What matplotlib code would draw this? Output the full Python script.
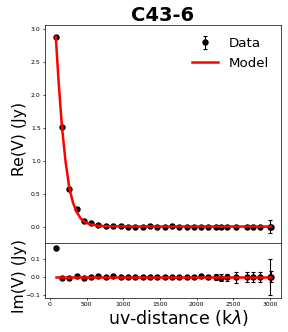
import numpy as np
import matplotlib.pyplot as plt

# datos
uv = [80, 165, 265, 365, 460, 560, 660, 765, 865, 965, 1065, 1165, 1265, 1365, 1465,
      1565, 1665, 1765, 1865, 1960, 2060, 2160, 2265, 2330, 2415, 2535, 2680, 2770,
      2865, 2995, 3015]
re_v = [2.88, 1.51, 0.57, 0.27, 0.09, 0.06, 0.02, 0.012, 0.006, 0.003, 0.0, -0.002,
        0.0, 0.002, 0.0, 0.0, 0.001, 0.0, 0.0, 0.0, 0.0, 0.0, 0.0, 0.0, 0.0, 0.0,
        0.0, 0.0, 0.0, 0.0, 0.0]
im_v = [0.16, -0.006, -0.006, 0.005, -0.006, 0.0, 0.004, 0.0, 0.002, 0.0, 0.0, 0.0,
        -0.002, 0.0, 0.0, -0.002, 0.0, 0.0, -0.002, 0.0, 0.002, -0.003, 0.0, -0.004,
        -0.002, -0.003, 0.0, 0.0, -0.003, -0.002, 0.0]
err = [0.005] * 20 + [0.01, 0.012, 0.018, 0.02, 0.02, 0.03, 0.028, 0.028, 0.028,
                      0.1, 0.03]

# modelo
uv_mod = [80, 120, 165, 215, 265, 315, 365, 415, 460, 510, 560, 660, 765, 1000,
          1500, 2000, 2500, 3015]
re_mod = [2.88, 2.17, 1.50, 0.97, 0.58, 0.36, 0.22, 0.13, 0.08, 0.05, 0.03, 0.012,
          0.005, 0.001, 0.0, 0.0, 0.0, 0.0]
uv_mod_im = [80, 3015]
im_mod = [0.0, 0.0]

fig = plt.figure(figsize=(2.88, 3.32), dpi=100)
ax1 = fig.add_axes([0.156, 0.268, 0.82, 0.657])
ax2 = fig.add_axes([0.156, 0.102, 0.82, 0.166], sharex=ax1)

for ax, vals, mx, my in [(ax1, re_v, uv_mod, re_mod), (ax2, im_v, uv_mod_im, im_mod)]:
    ax.errorbar(uv, vals, yerr=err, fmt="o", color="black", ms=3.6, ecolor="black",
                elinewidth=0.8, capsize=1.5, capthick=0.8, label="Data", zorder=2)
    ax.plot(mx, my, color="red", lw=1.8, label="Model", zorder=3)
    ax.tick_params(labelsize=4.4, length=1.6, width=0.5, pad=1.5)
    for s in ax.spines.values():
        s.set_linewidth(0.5)

ax1.set_xlim(-68, 3150)
ax1.set_ylim(-0.25, 3.06)
ax2.set_ylim(-0.12, 0.19)
ax1.set_yticks([0.0, 0.5, 1.0, 1.5, 2.0, 2.5, 3.0])
ax2.set_yticks([-0.1, 0.0, 0.1])
ax2.set_xticks([0, 500, 1000, 1500, 2000, 2500, 3000])
ax1.tick_params(axis="x", labelbottom=False, length=0)

ax1.set_title("C43-6", fontsize=14, fontweight="bold", pad=3)
ax1.set_ylabel("Re(V) (Jy)", fontsize=11.3)
ax2.set_ylabel("Im(V) (Jy)", fontsize=11.3)
ax2.set_xlabel("uv-distance (k$\\lambda$)", fontsize=12.5, labelpad=1)
ax1.yaxis.set_label_coords(-0.075, 0.477)
ax2.yaxis.set_label_coords(-0.075, 0.41)
ax2.xaxis.set_label_coords(0.564, -0.18)

h, l = ax1.get_legend_handles_labels()
ax1.legend(h[::-1], l[::-1], fontsize=9.6, frameon=False, loc="upper right")

plt.savefig("out.png", dpi=100)
